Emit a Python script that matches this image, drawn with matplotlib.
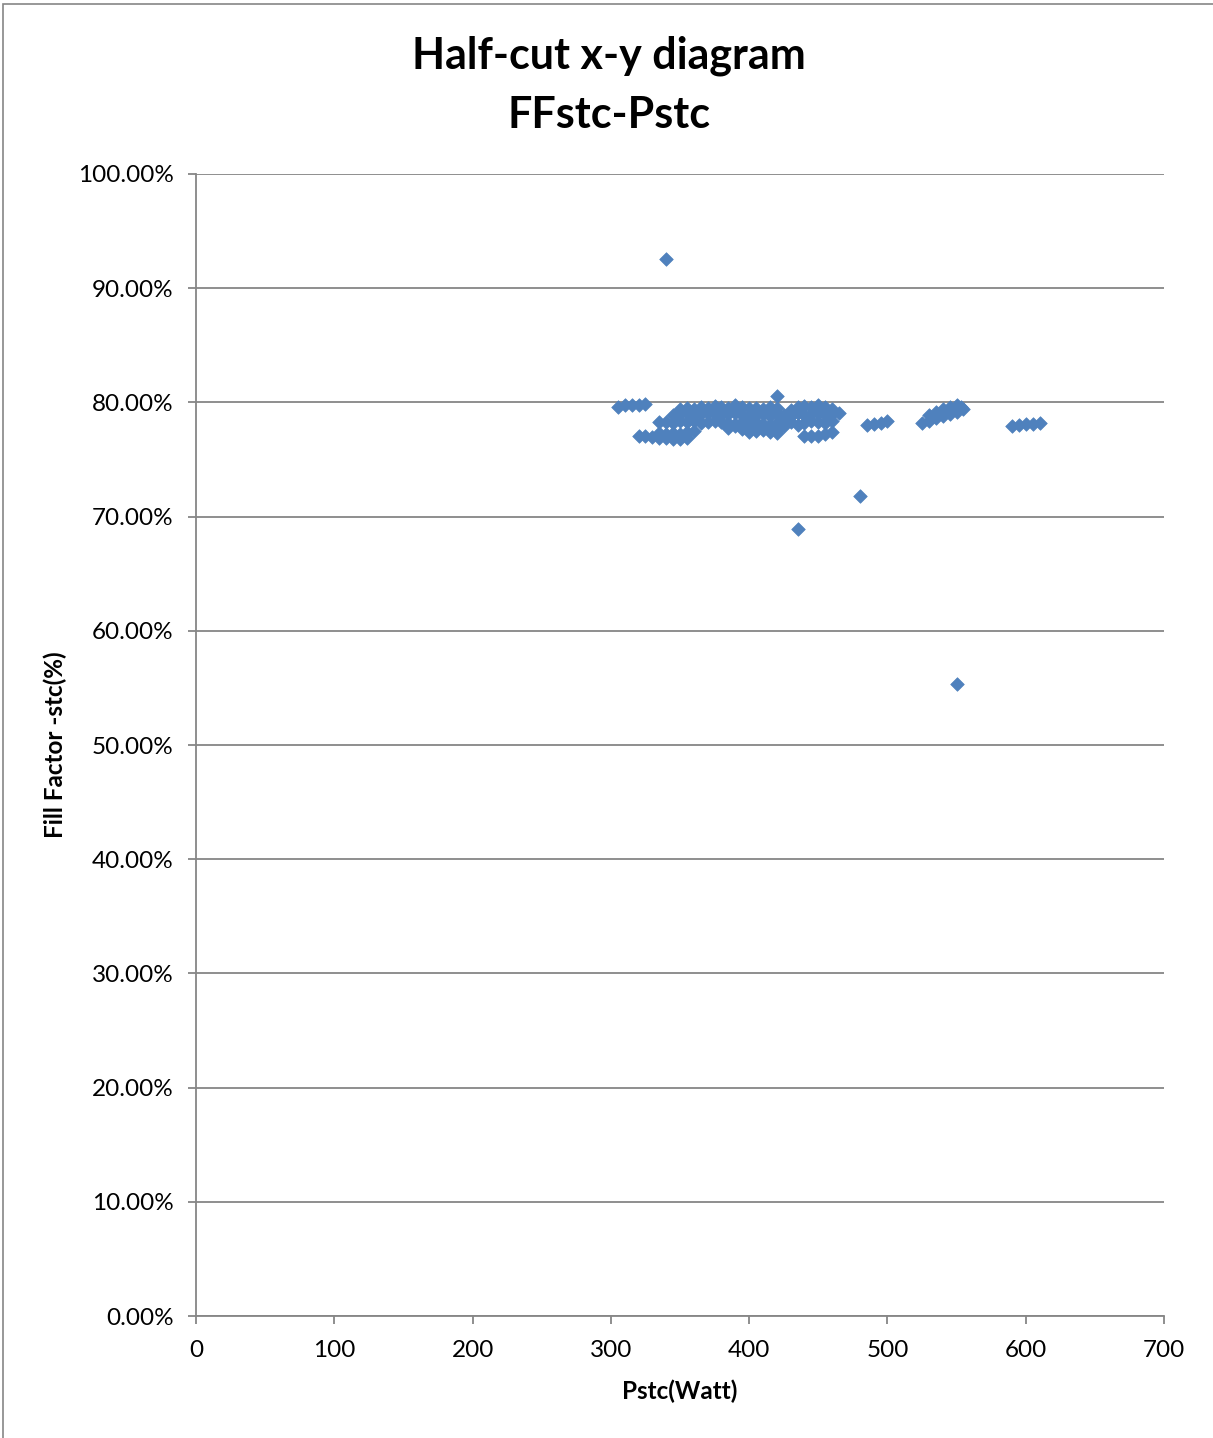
import matplotlib.pyplot as plt
from matplotlib.patches import Rectangle
from matplotlib.ticker import FuncFormatter
import matplotlib as mpl

mpl.rcParams['font.family'] = ['Lato', 'DejaVu Sans']

# Pstc (W) and fill factor (%)
pstc = [
    305, 310, 315, 320, 325,
    320, 325, 330, 335, 340, 345, 350, 355,
    335, 340, 345, 350, 355, 360,
    335, 340, 345, 350, 355, 360, 365, 370, 375, 380, 385, 390, 395, 400,
    405, 410, 415, 420, 425, 430, 435, 440, 445, 450, 455, 460,
    345, 350, 355, 360, 365, 370, 375, 380, 385, 390, 395, 400, 405, 410,
    415, 420, 425, 430, 435, 440, 445, 450, 455, 460, 465,
    350, 355, 360, 365, 370, 375, 380, 385, 390, 395, 400, 405, 410, 415,
    420, 430, 435, 440, 445, 450, 455, 460,
    385, 390, 395, 400, 405, 410, 415, 420, 425,
    400, 405, 410, 415, 420,
    440, 445, 450, 455, 460,
    485, 490, 495, 500,
    525, 530, 535, 540, 545, 550, 555,
    530, 535, 540, 545, 550, 553,
    590, 595, 600, 605, 610,
    340, 420, 435, 480, 550,
]
ff = [
    79.6, 79.8, 79.8, 79.8, 79.9,
    77.1, 77.1, 77.0, 76.9, 76.9, 76.8, 76.8, 76.9,
    77.3, 77.2, 77.3, 77.2, 77.4, 77.5,
    78.3, 78.3, 78.2, 78.4, 78.3, 78.4, 78.2, 78.3, 78.4, 78.3, 78.2, 78.1, 78.3, 78.2,
    78.3, 78.1, 78.0, 78.2, 78.5, 78.3, 78.0, 78.2, 78.4, 78.3, 78.2, 78.4,
    78.9, 79.0, 79.1, 78.9, 79.0, 79.1, 79.0, 78.9, 79.0, 79.1, 78.9, 78.8, 78.9, 79.0,
    78.8, 79.1, 78.9, 78.8, 79.1, 78.9, 79.0, 79.1, 78.9, 79.0, 79.1,
    79.4, 79.5, 79.4, 79.6, 79.5, 79.7, 79.6, 79.5, 79.8, 79.6, 79.5, 79.5, 79.4, 79.6,
    79.5, 79.3, 79.6, 79.7, 79.6, 79.8, 79.6, 79.4,
    77.8, 77.9, 77.7, 77.8, 77.6, 77.7, 77.5, 77.6, 77.9,
    77.4, 77.5, 77.6, 77.4, 77.3,
    77.1, 77.1, 77.1, 77.2, 77.4,
    78.0, 78.1, 78.2, 78.4,
    78.2, 78.4, 78.6, 78.8, 79.0, 79.2, 79.4,
    78.9, 79.2, 79.4, 79.6, 79.8, 79.6,
    77.9, 78.0, 78.1, 78.1, 78.2,
    92.6, 80.6, 68.9, 71.8, 55.3,
]

x_ticks = [0, 100, 200, 300, 400, 500, 600, 700]
y_ticks = [0, 10, 20, 30, 40, 50, 60, 70, 80, 90, 100]

fig = plt.figure(figsize=(12.13, 14.38), dpi=100)
ax = fig.add_axes([0.1616, 0.0848, 0.798, 0.7942])

# outer chart border (only left and top edges are visible in the crop)
fig.patches.append(Rectangle((3 / 1213, -0.05), 1.2, 1 - 4 / 1438 + 0.05,
                             transform=fig.transFigure, fill=False,
                             edgecolor='#868686', lw=1.2))

ax.scatter(pstc, ff, marker='D', s=48, color='#4F81BD', edgecolor='#4F81BD',
           linewidth=0.5, zorder=3)

ax.set_xlim(0, 700)
ax.set_ylim(0, 100)
ax.set_xticks(x_ticks)
ax.set_yticks(y_ticks)
ax.yaxis.set_major_formatter(FuncFormatter(lambda v, p: '%.2f%%' % v))
ax.grid(axis='y', color='#868686', lw=1.3)
ax.set_axisbelow(True)

for s in ['top', 'right']:
    ax.spines[s].set_visible(False)
for s in ['left', 'bottom']:
    ax.spines[s].set_color('#868686')
    ax.spines[s].set_linewidth(1.3)
ax.tick_params(axis='both', direction='out', length=6, width=1.3,
               color='#868686', labelsize=17.5)
ax.tick_params(axis='x', pad=11)
ax.tick_params(axis='y', pad=10)

ax.set_xlabel('Pstc(Watt)', fontsize=17.5, fontweight='bold', va='center')
ax.xaxis.set_label_coords(0.5, -0.0657)
ax.set_ylabel('Fill Factor -stc(%)', fontsize=17.5, fontweight='bold', va='center')
ax.yaxis.set_label_coords(-0.1457, 0.5)

fig.text(0.502, 1 - 56 / 1438, 'Half-cut x-y diagram', ha='center', va='center',
         fontsize=31, fontweight='bold')
fig.text(0.502, 1 - 115 / 1438, 'FFstc-Pstc', ha='center', va='center',
         fontsize=31, fontweight='bold')

fig.savefig('out.png', dpi=100)
